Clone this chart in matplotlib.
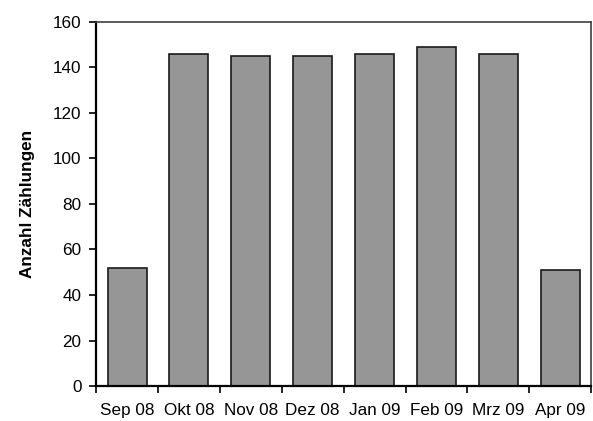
import matplotlib.pyplot as plt
import numpy as np

plt.rcParams["font.family"] = ["Liberation Sans", "DejaVu Sans"]

months = ["Sep 08", "Okt 08", "Nov 08", "Dez 08", "Jan 09", "Feb 09", "Mrz 09", "Apr 09"]
counts = [52, 146, 145, 145, 146, 149, 146, 51]

fig = plt.figure(figsize=(5.93, 4.21), dpi=100)
ax = fig.add_axes([0.162, 0.083, 0.835, 0.865])

x = np.arange(len(months))
ax.bar(x, counts, width=0.63, color="#969696", edgecolor="#1a1a1a", linewidth=1.2)

ax.set_xlim(-0.5, len(months) - 0.5)
ax.set_ylim(0, 160)
ax.set_yticks(np.arange(0, 161, 20))
ax.set_xticks(x)
ax.set_xticklabels(months, fontsize=12.3)
ax.set_xticks(np.arange(-0.5, len(months), 1), minor=True)
ax.tick_params(axis="x", which="major", length=0, pad=12)
ax.tick_params(axis="x", which="minor", length=5, width=1.2, direction="out")
ax.tick_params(axis="y", length=5, width=1.2, direction="out", labelsize=12.3, pad=5.5)

for side in ("left", "bottom"):
    ax.spines[side].set_linewidth(1.6)
    ax.spines[side].set_color("black")
for side in ("top", "right"):
    ax.spines[side].set_linewidth(1.2)
    ax.spines[side].set_color("#404040")

ax.set_ylabel("Anzahl Zählungen", fontsize=12.3, fontweight="bold", labelpad=13)

fig.savefig("out.png", dpi=100)
